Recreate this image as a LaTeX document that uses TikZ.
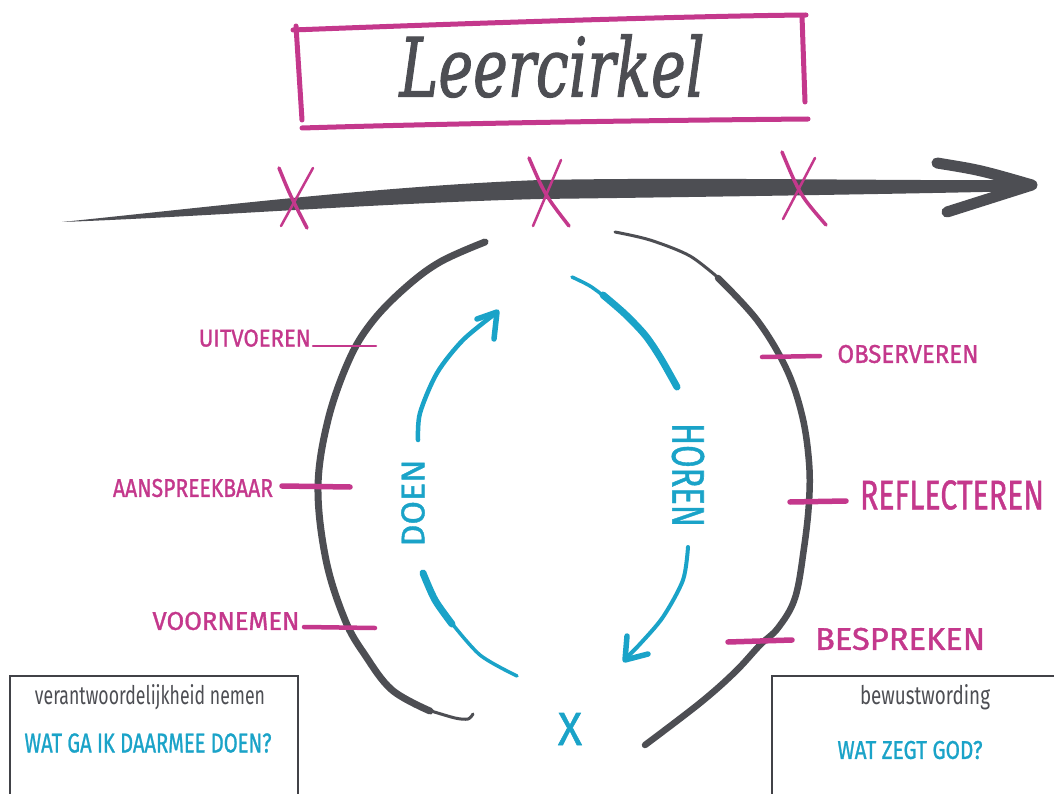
\documentclass[tikz,border=0pt]{standalone}
\usepackage{fontspec}
\setmainfont{Fira Sans}
\newfontfamily\hand{Fira Sans}[FakeBold=1.2]
\newfontfamily\titlefont{DejaVu Serif}[FakeBold=1.5]
\usepackage{graphicx}
\definecolor{mag}{HTML}{C4388C}
\definecolor{gry}{HTML}{4D4E53}
\definecolor{cyn}{HTML}{1AA3C8}
\tikzset{
  magline/.style={draw=mag, line cap=round, line join=round},
  gryline/.style={draw=gry, line cap=round, line join=round},
  cynline/.style={draw=cyn, line cap=round, line join=round},
  maglbl/.style={text=mag, inner sep=0pt, font=\hand},
  cynlbl/.style={text=cyn, inner sep=0pt, font=\hand},
  grylbl/.style={text=gry, inner sep=0pt},
  boxframe/.style={draw=gry!85!black, line width=2.2pt}
}
\newcommand{\fwh}[3]{\resizebox{#1pt}{#2pt}{#3}}
\begin{document}
\begin{tikzpicture}[x=1pt,y=-1pt]
\useasboundingbox[fill=white] (0,0) rectangle (1054,794);

% title box
\draw[magline, line width=5pt] (293,30) .. controls (500,22) and (700,16) .. (806,15);
\draw[magline, line width=5pt] (296,26) -- (302,120);
\draw[magline, line width=5pt] (802,16) -- (805,102);
\draw[magline, line width=5pt] (302,128) .. controls (500,122) and (700,120) .. (808,119);
\node[grylbl] (title) at (552,66) {\fwh{305}{62}{\titlefont\itshape Leercirkel}};

% time arrow (tapered body)
\coordinate (tl) at (62,222);
\coordinate (tip) at (1032,185);
\fill[gry] (tl) .. controls (200,208) and (380,186) .. (540,180)
  .. controls (700,177) and (900,181) .. (1028,180)
  -- (1028,191) .. controls (900,194) and (700,197) .. (540,199)
  .. controls (380,203) and (200,217) .. (tl) -- cycle;
\draw[gryline, line width=11pt] (937,163) .. controls (980,170) .. (tip) .. controls (990,198) .. (947,212);

% magenta crosses on the arrow
\draw[magline, line width=3.5pt] (279,168) .. controls (290,195) .. (307,228);
\draw[magline, line width=2.5pt] (313,168) -- (281,226);
\draw[magline, line width=3.5pt] (529,158) .. controls (545,195) .. (569,226);
\draw[magline, line width=2.5pt] (561,160) -- (533,226);
\draw[magline, line width=3.5pt] (782,152) .. controls (800,195) .. (826,225);
\draw[magline, line width=2.5pt] (815,158) -- (783,219);

% big circle, left half
\draw[gryline, line width=7pt] plot[smooth, tension=0.6] coordinates {
  (485,242) (440,262) (405,288) (372,322) (349,360) (328,420) (318,487)
  (326,560) (345,620) (365,655) (392,690) (430,711)};
\draw[gryline, line width=3pt] plot[smooth] coordinates {(428,710) (455,718) (468,719) (473,714)};
% big circle, right half
\draw[gryline, line width=3pt] plot[smooth] coordinates {(615,232) (650,240) (690,256) (722,281)};
\draw[gryline, line width=6.5pt] plot[smooth, tension=0.6] coordinates {
  (718,278) (757,320) (786,368) (802,415) (809,462) (809,502) (804,548)
  (795,598) (778,628) (760,645) (735,672) (700,703) (645,745)};

% magenta ticks + labels (left)
\draw[magline, line width=2.5pt] (313,346) -- (376,346);
\node[maglbl, anchor=south east] (uit) at (311,347) {\fwh{112}{17}{UITVOEREN}};
\draw[magline, line width=5.5pt] (282,486) -- (350,487);
\node[maglbl] (aan) at (193,488) {\fwh{160}{18}{AANSPREEKBAAR}};
\draw[magline, line width=4.5pt] (304,627) -- (375,628);
\node[maglbl] (voor) at (226,621) {\fwh{147}{18}{VOORNEMEN}};
% right
\draw[magline, line width=4.5pt] (762,357) -- (820,356);
\node[maglbl] (obs) at (908,354) {\fwh{141}{18}{OBSERVEREN}};
\draw[magline, line width=5.5pt] (790,502) -- (846,501);
\node[maglbl] (refl) at (952,495) {\fwh{184}{29}{REFLECTEREN}};
\draw[magline, line width=5.5pt] (728,642) -- (792,640);
\node[maglbl] (besp) at (900,639) {\fwh{170}{22}{BESPREKEN}};

% cyan cycle
\draw[cynline, line width=4.5pt] plot[smooth] coordinates {(418,440) (420,413) (437,373) (463,340) (496,313)};
\draw[cynline, line width=5.5pt] (477,319) -- (497,312) -- (494,339);
\draw[cynline, line width=3.5pt] plot[smooth] coordinates {(572,277) (590,286) (605,297)};
\draw[cynline, line width=7pt] plot[smooth] coordinates {(603,295) (625,314) (645,335) (660,357) (677,387)};
\draw[cynline, line width=4pt] plot[smooth] coordinates {(688,547) (683,580) (663,617) (640,644) (626,658)};
\draw[cynline, line width=5.5pt] (627,636) -- (625,660) -- (648,654);
\draw[cynline, line width=7pt] plot[smooth] coordinates {(423,573) (435,600) (452,624)};
\draw[cynline, line width=3.5pt] plot[smooth] coordinates {(450,621) (480,655) (517,676)};
\node[cynlbl, rotate=90] (doen) at (413,503) {\fwh{87}{23}{DOEN}};
\node[cynlbl, rotate=-90] (horen) at (688,475) {\fwh{104}{32}{HOREN}};
\node[cynlbl] (x) at (570,729) {\fwh{24}{32}{X}};

% bottom boxes
\draw[boxframe] (10,800) -- (10,676) -- (298,676) -- (298,800);
\node[grylbl] (vn) at (150,697) {\fwh{230}{20}{verantwoordelijkheid nemen}};
\node[cynlbl] (wg) at (148,743) {\fwh{247}{19}{WAT GA IK DAARMEE DOEN?}};
\draw[boxframe] (772,800) -- (772,676) -- (1060,676);
\node[grylbl] (bw) at (925,697) {\fwh{130}{20}{bewustwording}};
\node[cynlbl] (wz) at (910,750) {\fwh{145}{18}{WAT ZEGT GOD?}};
\end{tikzpicture}
\end{document}
